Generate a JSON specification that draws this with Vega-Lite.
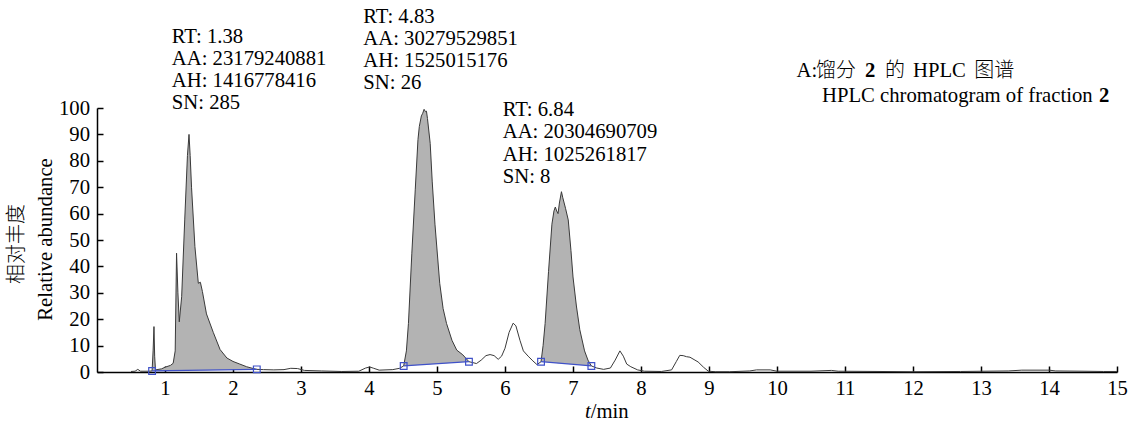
{
  "$schema": "https://vega.github.io/schema/vega-lite/v6.json",
  "autosize": {"type": "none"},
  "width": 1020,
  "height": 264,
  "padding": {"left": 97, "top": 108, "right": 24, "bottom": 55},
  "background": "white",
  "config": {
    "view": {"stroke": null},
    "font": "Times New Roman, Liberation Serif, serif",
    "text": {"font": "Times New Roman, Liberation Serif, serif", "fontSize": 20.7, "color": "black"},
    "axis": {"labelFont": "Times New Roman, Liberation Serif, serif", "titleFont": "Times New Roman, Liberation Serif, serif"},
    "style": {
      "guide-label": {"font": "Times New Roman, Liberation Serif, serif", "fontSize": 20.7, "fill": "black"},
      "guide-title": {"font": "Times New Roman, Liberation Serif, serif", "fontSize": 20.7, "fill": "black", "fontWeight": "normal"}
    }
  },
  "resolve": {"axis": {"x": "independent", "y": "independent"}},
  "datasets": {
    "trace": [
      {"t": 0.5, "v": 0.2},
      {"t": 0.56, "v": 0.3},
      {"t": 0.6, "v": 1.0},
      {"t": 0.64, "v": 0.3},
      {"t": 0.76, "v": 0.3},
      {"t": 0.81, "v": 0.4, "p": 1, "b": 0.4},
      {"t": 0.825, "v": 8, "p": 1, "b": 0.41},
      {"t": 0.838, "v": 17.2, "p": 1, "b": 0.41},
      {"t": 0.848, "v": 6, "p": 1, "b": 0.42},
      {"t": 0.86, "v": 0.8, "p": 1, "b": 0.42},
      {"t": 0.95, "v": 1.2, "p": 1, "b": 0.45},
      {"t": 1.0, "v": 1.8, "p": 1, "b": 0.47},
      {"t": 1.08, "v": 2.5, "p": 1, "b": 0.5},
      {"t": 1.12, "v": 3.3, "p": 1, "b": 0.52},
      {"t": 1.15, "v": 8, "p": 1, "b": 0.53},
      {"t": 1.17, "v": 45, "p": 1, "b": 0.54},
      {"t": 1.19, "v": 30, "p": 1, "b": 0.55},
      {"t": 1.21, "v": 19, "p": 1, "b": 0.56},
      {"t": 1.245, "v": 28.5, "p": 1, "b": 0.57},
      {"t": 1.29, "v": 57.6, "p": 1, "b": 0.59},
      {"t": 1.33, "v": 82, "p": 1, "b": 0.6},
      {"t": 1.353, "v": 90, "p": 1, "b": 0.61},
      {"t": 1.37, "v": 82, "p": 1, "b": 0.62},
      {"t": 1.39, "v": 70, "p": 1, "b": 0.63},
      {"t": 1.44, "v": 47.5, "p": 1, "b": 0.65},
      {"t": 1.49, "v": 33.6, "p": 1, "b": 0.67},
      {"t": 1.52, "v": 34, "p": 1, "b": 0.68},
      {"t": 1.55, "v": 30.5, "p": 1, "b": 0.69},
      {"t": 1.61, "v": 22, "p": 1, "b": 0.71},
      {"t": 1.71, "v": 15, "p": 1, "b": 0.75},
      {"t": 1.81, "v": 8.5, "p": 1, "b": 0.79},
      {"t": 1.91, "v": 5.3, "p": 1, "b": 0.83},
      {"t": 2.0, "v": 4, "p": 1, "b": 0.86},
      {"t": 2.1, "v": 3.0, "p": 1, "b": 0.9},
      {"t": 2.2, "v": 2.0, "p": 1, "b": 0.94},
      {"t": 2.3, "v": 1.3, "p": 1, "b": 0.98},
      {"t": 2.35, "v": 1.0, "p": 1, "b": 1.0},
      {"t": 2.45, "v": 0.9},
      {"t": 2.6, "v": 0.8},
      {"t": 2.75, "v": 0.9},
      {"t": 2.85, "v": 1.4},
      {"t": 2.95, "v": 1.3},
      {"t": 3.05, "v": 0.6},
      {"t": 3.3, "v": 0.4},
      {"t": 3.6, "v": 0.2},
      {"t": 3.85, "v": 0.3},
      {"t": 3.95, "v": 1.5},
      {"t": 4.01, "v": 1.9},
      {"t": 4.07, "v": 1.4},
      {"t": 4.15, "v": 0.7},
      {"t": 4.35, "v": 0.9},
      {"t": 4.45, "v": 1.4},
      {"t": 4.51, "v": 2.3, "p": 2, "b": 2.3},
      {"t": 4.55, "v": 8, "p": 2, "b": 2.37},
      {"t": 4.58, "v": 18.4, "p": 2, "b": 2.42},
      {"t": 4.63, "v": 45, "p": 2, "b": 2.5},
      {"t": 4.68, "v": 69, "p": 2, "b": 2.58},
      {"t": 4.72, "v": 88, "p": 2, "b": 2.65},
      {"t": 4.74, "v": 93, "p": 2, "b": 2.68},
      {"t": 4.77, "v": 97, "p": 2, "b": 2.73},
      {"t": 4.79, "v": 98, "p": 2, "b": 2.77},
      {"t": 4.81, "v": 99.5, "p": 2, "b": 2.8},
      {"t": 4.83, "v": 98.6, "p": 2, "b": 2.83},
      {"t": 4.845, "v": 98.8, "p": 2, "b": 2.86},
      {"t": 4.86, "v": 96, "p": 2, "b": 2.88},
      {"t": 4.9, "v": 86.6, "p": 2, "b": 2.95},
      {"t": 4.93, "v": 72, "p": 2, "b": 3.0},
      {"t": 4.97, "v": 56, "p": 2, "b": 3.07},
      {"t": 5.04, "v": 33.6, "p": 2, "b": 3.18},
      {"t": 5.09, "v": 24, "p": 2, "b": 3.27},
      {"t": 5.14, "v": 18.4, "p": 2, "b": 3.35},
      {"t": 5.22, "v": 12, "p": 2, "b": 3.48},
      {"t": 5.29, "v": 8.3, "p": 2, "b": 3.6},
      {"t": 5.38, "v": 6.5, "p": 2, "b": 3.75},
      {"t": 5.47, "v": 3.9, "p": 2, "b": 3.9},
      {"t": 5.52, "v": 3.6},
      {"t": 5.58, "v": 3.2},
      {"t": 5.65, "v": 4.5},
      {"t": 5.72, "v": 6.2},
      {"t": 5.78, "v": 6.6},
      {"t": 5.84, "v": 6.2},
      {"t": 5.9, "v": 4.8},
      {"t": 5.95, "v": 6},
      {"t": 6.0, "v": 9},
      {"t": 6.06, "v": 15},
      {"t": 6.12, "v": 18.5},
      {"t": 6.16, "v": 17.5},
      {"t": 6.22, "v": 12},
      {"t": 6.27, "v": 8},
      {"t": 6.34, "v": 6},
      {"t": 6.41, "v": 4.2},
      {"t": 6.47, "v": 2.8},
      {"t": 6.53, "v": 3.9, "p": 3, "b": 3.9},
      {"t": 6.56, "v": 10, "p": 3, "b": 3.84},
      {"t": 6.59, "v": 18.4, "p": 3, "b": 3.77},
      {"t": 6.64, "v": 38, "p": 3, "b": 3.66},
      {"t": 6.69, "v": 56, "p": 3, "b": 3.55},
      {"t": 6.72, "v": 61, "p": 3, "b": 3.49},
      {"t": 6.74, "v": 62.5, "p": 3, "b": 3.45},
      {"t": 6.76, "v": 61, "p": 3, "b": 3.4},
      {"t": 6.78, "v": 60, "p": 3, "b": 3.36},
      {"t": 6.8, "v": 64, "p": 3, "b": 3.32},
      {"t": 6.83, "v": 68.3, "p": 3, "b": 3.25},
      {"t": 6.85, "v": 66, "p": 3, "b": 3.21},
      {"t": 6.89, "v": 62, "p": 3, "b": 3.12},
      {"t": 6.93, "v": 57.6, "p": 3, "b": 3.04},
      {"t": 6.97, "v": 46, "p": 3, "b": 2.95},
      {"t": 7.0, "v": 36, "p": 3, "b": 2.89},
      {"t": 7.05, "v": 25, "p": 3, "b": 2.78},
      {"t": 7.1, "v": 16, "p": 3, "b": 2.67},
      {"t": 7.17, "v": 8, "p": 3, "b": 2.52},
      {"t": 7.22, "v": 4.5, "p": 3, "b": 2.41},
      {"t": 7.27, "v": 2.3, "p": 3, "b": 2.3},
      {"t": 7.35, "v": 1.5},
      {"t": 7.45, "v": 1.0},
      {"t": 7.55, "v": 1.5},
      {"t": 7.62, "v": 4.5},
      {"t": 7.69, "v": 8},
      {"t": 7.74, "v": 6},
      {"t": 7.79, "v": 3},
      {"t": 7.85, "v": 2},
      {"t": 7.95, "v": 0.8},
      {"t": 8.05, "v": 0.3},
      {"t": 8.3, "v": 0.2},
      {"t": 8.45, "v": 0.8},
      {"t": 8.52, "v": 4},
      {"t": 8.57, "v": 6.3},
      {"t": 8.62, "v": 6.2},
      {"t": 8.67, "v": 5.8},
      {"t": 8.72, "v": 5.6},
      {"t": 8.78, "v": 4.7},
      {"t": 8.84, "v": 3.8},
      {"t": 8.92, "v": 1.8},
      {"t": 8.99, "v": 0.3},
      {"t": 9.1, "v": 0.1},
      {"t": 9.3, "v": 0.1},
      {"t": 9.6, "v": 0.4},
      {"t": 9.7, "v": 0.8},
      {"t": 9.9, "v": 0.8},
      {"t": 10.0, "v": 0.3},
      {"t": 10.5, "v": 0.3},
      {"t": 10.8, "v": 0.6},
      {"t": 10.9, "v": 0.3},
      {"t": 11.5, "v": 0.2},
      {"t": 12.0, "v": 0.1},
      {"t": 12.7, "v": 0.2},
      {"t": 13.4, "v": 0.4},
      {"t": 13.6, "v": 0.7},
      {"t": 14.0, "v": 0.7},
      {"t": 14.1, "v": 0.4},
      {"t": 14.5, "v": 0.3},
      {"t": 14.8, "v": 0.2},
      {"t": 15.0, "v": 0.2}
    ],
    "bases": [
      {"t": 0.81, "v": 0.4, "p": 1},
      {"t": 2.35, "v": 1.0, "p": 1},
      {"t": 4.51, "v": 2.3, "p": 2},
      {"t": 5.47, "v": 3.9, "p": 2},
      {"t": 6.53, "v": 3.9, "p": 3},
      {"t": 7.27, "v": 2.3, "p": 3}
    ],
    "anchor": [{}]
  },
  "layer": [
    {
      "data": {"name": "trace"},
      "transform": [{"filter": "isValid(datum.p)"}],
      "mark": {"type": "area", "color": "#b3b3b3", "opacity": 1},
      "encoding": {
        "x": {
          "field": "t", "type": "quantitative",
          "scale": {"domain": [0, 15], "nice": false, "zero": false},
          "axis": {
            "values": [1, 2, 3, 4, 5, 6, 7, 8, 9, 10, 11, 12, 13, 14, 15], "format": "d", "title": null,
            "grid": false, "tickSize": -6, "labelPadding": 12.5,
            "labelFontSize": 20.7, "labelFont": "Times New Roman, Liberation Serif, serif", "labelColor": "black",
            "domainColor": "black", "tickColor": "black", "domainWidth": 1.5, "tickWidth": 1.5,
            "labelFlush": false, "labelOverlap": false
          }
        },
        "y": {
          "field": "v", "type": "quantitative",
          "scale": {"domain": [0, 100], "nice": false, "zero": false},
          "axis": {
            "values": [0, 10, 20, 30, 40, 50, 60, 70, 80, 90, 100], "format": "d",
            "title": "Relative abundance",
            "titleFontSize": 20.7, "titleFontWeight": "normal", "titleColor": "black",
            "titleFont": "Times New Roman, Liberation Serif, serif",
            "titleAngle": 270, "titleBaseline": "middle", "titleAlign": "center", "titleX": -52, "titleY": 131,
            "grid": false, "tickSize": -6, "labelPadding": 13.5,
            "labelFontSize": 20.7, "labelFont": "Times New Roman, Liberation Serif, serif", "labelColor": "black",
            "domainColor": "black", "tickColor": "black", "domainWidth": 1.5, "tickWidth": 1.5,
            "labelFlush": false, "labelOverlap": false
          }
        },
        "y2": {"field": "b"},
        "detail": {"field": "p", "type": "nominal"}
      }
    },
    {
      "data": {"name": "trace"},
      "mark": {"type": "line", "color": "#3a3a3a", "strokeWidth": 1},
      "encoding": {
        "x": {"field": "t", "type": "quantitative", "axis": null},
        "y": {"field": "v", "type": "quantitative", "axis": null}
      }
    },
    {
      "data": {"name": "bases"},
      "mark": {"type": "line", "color": "#3f51c8", "strokeWidth": 1.2},
      "encoding": {
        "x": {"field": "t", "type": "quantitative", "axis": null},
        "y": {"field": "v", "type": "quantitative", "axis": null},
        "detail": {"field": "p", "type": "nominal"}
      }
    },
    {
      "data": {"name": "bases"},
      "mark": {"type": "point", "shape": "square", "filled": false, "size": 45, "color": "#3f51c8", "strokeWidth": 1.2, "opacity": 1},
      "encoding": {
        "x": {"field": "t", "type": "quantitative", "axis": null},
        "y": {"field": "v", "type": "quantitative", "axis": null}
      }
    },
    {
      "data": {"name": "anchor"},
      "mark": {"type": "text", "align": "center", "baseline": "middle", "angle": 270, "font": "Noto Sans CJK SC", "fontSize": 20, "fontWeight": 300, "text": "相对丰度"},
      "encoding": {"x": {"datum": -1.18, "axis": null}, "y": {"datum": 48.5, "axis": null}}
    },
    {
      "data": {"name": "anchor"},
      "mark": {"type": "text", "align": "left", "baseline": "alphabetic", "lineHeight": 22,
        "text": ["RT: 1.38", "AA: 23179240881", "AH: 1416778416", "SN: 285"]},
      "encoding": {"x": {"datum": 1.1, "axis": null}, "y": {"datum": 124.5, "axis": null}}
    },
    {
      "data": {"name": "anchor"},
      "mark": {"type": "text", "align": "left", "baseline": "alphabetic", "lineHeight": 22,
        "text": ["RT: 4.83", "AA: 30279529851", "AH: 1525015176", "SN: 26"]},
      "encoding": {"x": {"datum": 3.916, "axis": null}, "y": {"datum": 132.3, "axis": null}}
    },
    {
      "data": {"name": "anchor"},
      "mark": {"type": "text", "align": "left", "baseline": "alphabetic", "lineHeight": 22.4,
        "text": ["RT: 6.84", "AA: 20304690709", "AH: 1025261817", "SN: 8"]},
      "encoding": {"x": {"datum": 5.966, "axis": null}, "y": {"datum": 97.0, "axis": null}}
    },
    {
      "data": {"name": "anchor"},
      "mark": {"type": "text", "align": "left", "baseline": "alphabetic", "text": "A:"},
      "encoding": {"x": {"datum": 10.287, "axis": null}, "y": {"datum": 111.85, "axis": null}}
    },
    {
      "data": {"name": "anchor"},
      "mark": {"type": "text", "align": "left", "baseline": "alphabetic", "font": "Noto Sans CJK SC", "fontSize": 20, "fontWeight": 300, "text": "馏分"},
      "encoding": {"x": {"datum": 10.574, "axis": null}, "y": {"datum": 111.85, "axis": null}}
    },
    {
      "data": {"name": "anchor"},
      "mark": {"type": "text", "align": "left", "baseline": "alphabetic", "fontWeight": "bold", "text": "2"},
      "encoding": {"x": {"datum": 11.294, "axis": null}, "y": {"datum": 111.85, "axis": null}}
    },
    {
      "data": {"name": "anchor"},
      "mark": {"type": "text", "align": "left", "baseline": "alphabetic", "font": "Noto Sans CJK SC", "fontSize": 20, "fontWeight": 300, "text": "的"},
      "encoding": {"x": {"datum": 11.59, "axis": null}, "y": {"datum": 111.85, "axis": null}}
    },
    {
      "data": {"name": "anchor"},
      "mark": {"type": "text", "align": "left", "baseline": "alphabetic", "text": "HPLC"},
      "encoding": {"x": {"datum": 12.0, "axis": null}, "y": {"datum": 111.85, "axis": null}}
    },
    {
      "data": {"name": "anchor"},
      "mark": {"type": "text", "align": "left", "baseline": "alphabetic", "font": "Noto Sans CJK SC", "fontSize": 20, "fontWeight": 300, "text": "图谱"},
      "encoding": {"x": {"datum": 12.9, "axis": null}, "y": {"datum": 111.85, "axis": null}}
    },
    {
      "data": {"name": "anchor"},
      "mark": {"type": "text", "align": "left", "baseline": "alphabetic", "text": "HPLC chromatogram of fraction"},
      "encoding": {"x": {"datum": 10.662, "axis": null}, "y": {"datum": 102.4, "axis": null}}
    },
    {
      "data": {"name": "anchor"},
      "mark": {"type": "text", "align": "left", "baseline": "alphabetic", "fontWeight": "bold", "text": "2"},
      "encoding": {"x": {"datum": 14.735, "axis": null}, "y": {"datum": 102.4, "axis": null}}
    },
    {
      "data": {"name": "anchor"},
      "mark": {"type": "text", "align": "right", "baseline": "alphabetic", "fontStyle": "italic", "text": "t"},
      "encoding": {"x": {"datum": 7.26, "axis": null}, "y": {"datum": -17.4, "axis": null}}
    },
    {
      "data": {"name": "anchor"},
      "mark": {"type": "text", "align": "left", "baseline": "alphabetic", "text": "/min"},
      "encoding": {"x": {"datum": 7.26, "axis": null}, "y": {"datum": -17.4, "axis": null}}
    }
  ]
}
